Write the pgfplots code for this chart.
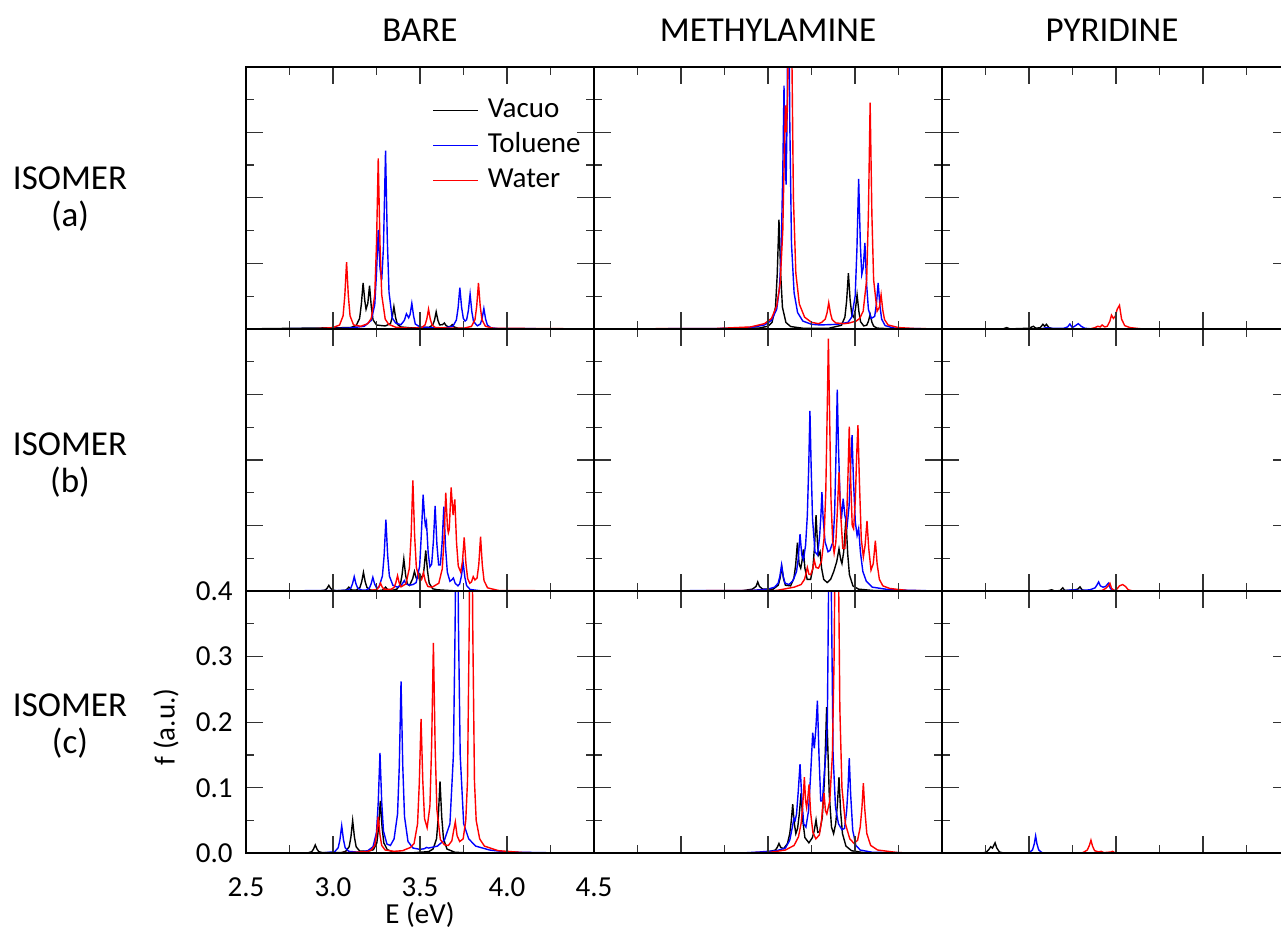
\documentclass[border=0pt]{standalone}
\usepackage{fontspec}
\setmainfont{Carlito}
\usepackage{pgfplots}
\pgfplotsset{compat=1.18}
\definecolor{cblue}{RGB}{0,0,255}
\definecolor{cred}{RGB}{255,0,0}
\pgfplotsset{
  panel/.style={
    scale only axis, width=174pt, height=131.1pt, anchor=south west,
    xmin=2.5, xmax=4.5, ymin=0, ymax=0.4,
    xtick={2.5,3,3.5,4,4.5}, minor xtick={2.75,3.25,3.75,4.25},
    ytick={0,0.1,0.2,0.3,0.4}, minor ytick={0.05,0.15,0.25,0.35},
    tick align=inside, major tick length=8.5pt, minor tick length=4pt,
    xticklabels={}, yticklabels={},
    axis line style={line width=1pt},
    every tick/.style={line width=0.6pt, black!80},
    axis on top, clip=true,
    every axis plot/.append style={line width=0.7pt, no markers},
    tick label style={font=\fontsize{14.5}{16}\selectfont},
  },
  vac/.style={black},
  tol/.style={cblue},
  wat/.style={cred},
}
\begin{document}
\begin{tikzpicture}
\path[use as bounding box] (0pt,0pt) rectangle (640.5pt,-468pt);
\tikzset{title/.style={font=\fontsize{17.5}{18.5}\selectfont, align=center}}
\node[title] at (210pt,-15pt) {BARE};
\node[title] at (384pt,-15pt) {METHYLAMINE};
\node[title] at (556pt,-15pt) {PYRIDINE};
\node[title] at (35pt,-99.75pt) {ISOMER\\(a)};
\node[title] at (35pt,-232.5pt) {ISOMER\\(b)};
\node[title] at (35pt,-363pt) {ISOMER\\(c)};
\node[font=\fontsize{14.5}{16}\selectfont, rotate=90] at (83pt,-363.5pt) {f (a.u.)};
\node[font=\fontsize{14.5}{16}\selectfont] at (210pt,-457.5pt) {E (eV)};

% ---------------- row (a) ----------------
\begin{axis}[panel, at={(123pt,-164.45pt)},
  legend style={draw=none, fill=none, at={(0.5345,0.885)}, anchor=north west,
    font=\fontsize{14.5}{16}\selectfont, row sep=4.5pt, inner sep=0pt,
    nodes={inner sep=0pt, text height=10pt, text depth=3pt},
    /tikz/every odd column/.append style={column sep=4.5pt}},
  legend cell align=left,
  legend image code/.code={\draw[#1, line width=0.7pt] (0pt,0pt) -- (22.5pt,0pt);}]
\addplot[vac] coordinates {(2.5,0) (3.10,0.002) (3.133,0.005) (3.153,0.016) (3.163,0.038) (3.173,0.070) (3.183,0.0425) (3.19,0.030) (3.20,0.039) (3.21,0.066) (3.22,0.034) (3.23,0.014) (3.25,0.006) (3.28,0.005) (3.30,0.0045) (3.33,0.008) (3.34,0.017) (3.35,0.034) (3.36,0.017) (3.37,0.007) (3.39,0.003) (3.45,0.0015) (3.553,0.0025) (3.573,0.006) (3.583,0.013) (3.593,0.026) (3.603,0.013) (3.613,0.006) (3.63,0.0066) (3.64,0.009) (3.65,0.005) (3.665,0.003) (3.675,0.004) (3.685,0.0065) (3.695,0.003) (3.72,0.001) (3.8,0.0003) (4.5,0)};
\addlegendentry{Vacuo}
\addplot[tol] coordinates {(2.5,0) (3.0,0.0006) (3.10,0.0015) (3.18,0.004) (3.22,0.013) (3.24,0.037) (3.25,0.085) (3.26,0.151) (3.27,0.093) (3.28,0.074) (3.29,0.125) (3.302,0.272) (3.312,0.137) (3.322,0.056) (3.34,0.017) (3.36,0.009) (3.39,0.0063) (3.41,0.013) (3.422,0.023) (3.435,0.017) (3.443,0.022) (3.453,0.039) (3.463,0.020) (3.473,0.0074) (3.50,0.003) (3.60,0.0012) (3.65,0.002) (3.689,0.004) (3.709,0.0135) (3.719,0.032) (3.729,0.063) (3.739,0.033) (3.749,0.016) (3.759,0.012) (3.768,0.014) (3.778,0.028) (3.788,0.053) (3.798,0.026) (3.808,0.011) (3.83,0.0047) (3.847,0.0075) (3.857,0.016) (3.867,0.031) (3.877,0.015) (3.887,0.006) (3.907,0.0018) (3.95,0.0005) (4.5,0)};
\addlegendentry{Toluene}
\addplot[wat] coordinates {(2.5,0) (2.9,0.0003) (3.0,0.002) (3.038,0.006) (3.058,0.020) (3.068,0.051) (3.078,0.102) (3.088,0.051) (3.098,0.020) (3.118,0.006) (3.16,0.004) (3.20,0.008) (3.22,0.016) (3.24,0.052) (3.25,0.13) (3.26,0.26) (3.27,0.13) (3.28,0.052) (3.30,0.015) (3.32,0.007) (3.36,0.0026) (3.45,0.001) (3.509,0.002) (3.529,0.006) (3.539,0.015) (3.549,0.030) (3.559,0.015) (3.569,0.006) (3.589,0.002) (3.70,0.001) (3.756,0.0012) (3.796,0.004) (3.816,0.014) (3.826,0.035) (3.836,0.070) (3.846,0.035) (3.856,0.014) (3.876,0.004) (3.92,0.001) (4.5,0)};
\addlegendentry{Water}
\end{axis}

\begin{axis}[panel, at={(297pt,-164.45pt)}]
\addplot[vac] coordinates {(2.5,0) (3.3,0.0002) (3.45,0.0013) (3.50,0.0041) (3.523,0.0098) (3.543,0.033) (3.553,0.083) (3.563,0.1665) (3.573,0.083) (3.583,0.033) (3.603,0.0098) (3.63,0.0036) (3.70,0.001) (3.85,0.001) (3.922,0.0055) (3.942,0.018) (3.952,0.043) (3.962,0.085) (3.972,0.044) (3.982,0.021) (3.992,0.018) (4.002,0.029) (4.012,0.052) (4.022,0.027) (4.032,0.011) (4.05,0.0045) (4.067,0.0056) (4.077,0.0115) (4.087,0.022) (4.097,0.0105) (4.107,0.0042) (4.127,0.0012) (4.2,0.0002) (4.5,0)};
\addplot[tol] coordinates {(2.5,0) (3.2,0.0005) (3.40,0.002) (3.48,0.006) (3.52,0.013) (3.55,0.030) (3.565,0.060) (3.575,0.11) (3.585,0.24) (3.592,0.371) (3.598,0.26) (3.604,0.22) (3.610,0.33) (3.617,0.60) (3.625,0.32) (3.635,0.13) (3.65,0.055) (3.67,0.025) (3.70,0.012) (3.75,0.007) (3.80,0.006) (3.90,0.007) (3.96,0.010) (3.981,0.018) (4.001,0.050) (4.011,0.121) (4.021,0.229) (4.031,0.127) (4.039,0.083) (4.047,0.093) (4.057,0.131) (4.067,0.067) (4.077,0.030) (4.093,0.016) (4.113,0.019) (4.123,0.038) (4.133,0.070) (4.143,0.036) (4.153,0.015) (4.173,0.005) (4.22,0.0015) (4.3,0.0005) (4.5,0)};
\addplot[wat] coordinates {(2.5,0) (3.2,0.0006) (3.40,0.003) (3.48,0.008) (3.52,0.016) (3.55,0.035) (3.57,0.07) (3.585,0.15) (3.594,0.27) (3.600,0.341) (3.606,0.30) (3.613,0.36) (3.620,0.55) (3.628,0.70) (3.636,0.45) (3.646,0.20) (3.66,0.085) (3.68,0.038) (3.71,0.018) (3.75,0.010) (3.79,0.008) (3.809,0.010) (3.829,0.015) (3.839,0.024) (3.849,0.040) (3.859,0.024) (3.869,0.014) (3.89,0.009) (3.94,0.008) (3.967,0.009) (4.007,0.012) (4.027,0.016) (4.047,0.027) (4.067,0.075) (4.077,0.175) (4.087,0.345) (4.097,0.175) (4.107,0.075) (4.127,0.027) (4.14,0.033) (4.15,0.052) (4.16,0.028) (4.17,0.014) (4.19,0.006) (4.25,0.002) (4.35,0.0005) (4.5,0)};
\end{axis}

\begin{axis}[panel, at={(471pt,-164.45pt)}]
\addplot[vac] coordinates {(2.5,0) (2.85,0) (2.872,0.002) (2.89,0) (3.00,0.001) (3.025,0.004) (3.04,0.001) (3.065,0.002) (3.080,0.007) (3.090,0.004) (3.100,0.007) (3.115,0.002) (3.14,0) (4.5,0)};
\addplot[tol] coordinates {(2.5,0) (3.07,0) (3.10,0.002) (3.12,0.001) (3.20,0.001) (3.222,0.003) (3.235,0.0075) (3.248,0.002) (3.262,0.004) (3.283,0.008) (3.30,0.004) (3.32,0.001) (3.36,0) (4.5,0)};
\addplot[wat] coordinates {(2.5,0) (3.35,0) (3.38,0.002) (3.395,0.004) (3.41,0.003) (3.42,0.006) (3.435,0.003) (3.45,0.004) (3.465,0.012) (3.474,0.021) (3.485,0.016) (3.495,0.019) (3.507,0.030) (3.52,0.036) (3.532,0.015) (3.55,0.005) (3.58,0.002) (3.65,0) (4.5,0)};
\end{axis}

% ---------------- row (b) ----------------
\begin{axis}[panel, at={(123pt,-295.55pt)}]
\addplot[vac] coordinates {(2.5,0) (2.93,0.0005) (2.956,0.0017) (2.966,0.0043) (2.976,0.0087) (2.986,0.0043) (2.996,0.0017) (3.02,0.0005) (3.071,0.0012) (3.081,0.003) (3.091,0.006) (3.101,0.003) (3.111,0.0015) (3.135,0.0017) (3.155,0.0057) (3.165,0.0143) (3.175,0.0285) (3.185,0.0143) (3.195,0.0057) (3.215,0.0017) (3.25,0.0006) (3.282,0.0012) (3.292,0.003) (3.302,0.006) (3.312,0.003) (3.322,0.0015) (3.345,0.0015) (3.367,0.003) (3.387,0.010) (3.397,0.025) (3.407,0.049) (3.417,0.025) (3.427,0.011) (3.44,0.0086) (3.458,0.019) (3.468,0.030) (3.478,0.020) (3.489,0.020) (3.499,0.026) (3.509,0.020) (3.518,0.024) (3.523,0.0335) (3.533,0.062) (3.543,0.031) (3.553,0.012) (3.573,0.0035) (3.60,0.002) (3.70,0.0004) (4.5,0)};
\addplot[tol] coordinates {(2.5,0) (3.05,0.001) (3.082,0.0015) (3.102,0.0045) (3.112,0.011) (3.122,0.022) (3.132,0.011) (3.142,0.0045) (3.165,0.0015) (3.19,0.0015) (3.209,0.0045) (3.219,0.011) (3.229,0.021) (3.239,0.011) (3.249,0.0055) (3.264,0.006) (3.284,0.023) (3.294,0.055) (3.304,0.109) (3.314,0.055) (3.324,0.023) (3.344,0.009) (3.37,0.006) (3.39,0.008) (3.40,0.012) (3.41,0.016) (3.42,0.011) (3.44,0.009) (3.46,0.010) (3.478,0.013) (3.498,0.038) (3.508,0.088) (3.518,0.147) (3.527,0.110) (3.531,0.100) (3.537,0.106) (3.547,0.058) (3.557,0.037) (3.567,0.041) (3.577,0.076) (3.587,0.130) (3.597,0.072) (3.607,0.040) (3.617,0.040) (3.627,0.073) (3.637,0.129) (3.647,0.066) (3.657,0.029) (3.672,0.015) (3.682,0.017) (3.692,0.020) (3.702,0.012) (3.718,0.008) (3.728,0.011) (3.738,0.023) (3.748,0.043) (3.758,0.021) (3.768,0.0084) (3.788,0.0025) (3.85,0.0004) (4.5,0)};
\addplot[wat] coordinates {(2.5,0) (3.20,0.0005) (3.253,0.0025) (3.263,0.006) (3.273,0.012) (3.283,0.006) (3.293,0.003) (3.331,0.0025) (3.351,0.0055) (3.361,0.0125) (3.371,0.0235) (3.381,0.012) (3.391,0.0065) (3.419,0.011) (3.439,0.035) (3.449,0.085) (3.459,0.169) (3.469,0.085) (3.479,0.036) (3.499,0.015) (3.51,0.018) (3.52,0.028) (3.53,0.016) (3.545,0.007) (3.57,0.006) (3.608,0.012) (3.628,0.034) (3.638,0.078) (3.648,0.150) (3.658,0.097) (3.663,0.089) (3.668,0.094) (3.679,0.158) (3.69,0.116) (3.70,0.140) (3.71,0.074) (3.72,0.038) (3.734,0.029) (3.744,0.045) (3.754,0.082) (3.764,0.042) (3.774,0.019) (3.786,0.012) (3.796,0.014) (3.806,0.022) (3.816,0.017) (3.828,0.020) (3.838,0.041) (3.848,0.083) (3.858,0.040) (3.868,0.016) (3.888,0.005) (3.95,0.001) (4.5,0)};
\end{axis}

\begin{axis}[panel, at={(297pt,-295.55pt)}]
\addplot[vac] coordinates {(2.5,0) (3.35,0.0005) (3.41,0.003) (3.431,0.007) (3.441,0.014) (3.451,0.007) (3.47,0.003) (3.53,0.003) (3.559,0.009) (3.569,0.019) (3.579,0.037) (3.589,0.019) (3.60,0.009) (3.63,0.008) (3.649,0.020) (3.659,0.040) (3.669,0.074) (3.679,0.041) (3.688,0.035) (3.695,0.045) (3.703,0.0635) (3.712,0.035) (3.725,0.018) (3.745,0.018) (3.758,0.035) (3.768,0.070) (3.776,0.116) (3.784,0.075) (3.79,0.055) (3.799,0.060) (3.808,0.035) (3.82,0.018) (3.84,0.013) (3.86,0.018) (3.878,0.030) (3.895,0.045) (3.908,0.0645) (3.918,0.048) (3.925,0.042) (3.935,0.060) (3.948,0.111) (3.958,0.057) (3.968,0.025) (3.988,0.008) (4.02,0.003) (4.1,0.001) (4.5,0)};
\addplot[tol] coordinates {(2.5,0) (3.40,0.001) (3.50,0.003) (3.538,0.006) (3.558,0.012) (3.568,0.022) (3.578,0.040) (3.588,0.022) (3.598,0.012) (3.62,0.010) (3.644,0.016) (3.664,0.030) (3.674,0.050) (3.684,0.087) (3.694,0.055) (3.704,0.048) (3.716,0.070) (3.726,0.115) (3.734,0.190) (3.741,0.275) (3.748,0.19) (3.756,0.11) (3.77,0.06) (3.785,0.055) (3.797,0.085) (3.804,0.115) (3.810,0.151) (3.817,0.11) (3.828,0.075) (3.845,0.060) (3.856,0.062) (3.866,0.070) (3.874,0.075) (3.883,0.12) (3.891,0.21) (3.898,0.3075) (3.905,0.22) (3.914,0.14) (3.922,0.11) (3.932,0.141) (3.942,0.115) (3.955,0.10) (3.966,0.13) (3.975,0.19) (3.983,0.238) (3.991,0.17) (4.002,0.105) (4.012,0.085) (4.021,0.0955) (4.031,0.060) (4.045,0.030) (4.065,0.015) (4.10,0.006) (4.2,0.002) (4.5,0)};
\addplot[wat] coordinates {(2.5,0) (3.55,0.001) (3.65,0.006) (3.69,0.010) (3.71,0.018) (3.718,0.026) (3.726,0.036) (3.735,0.026) (3.745,0.025) (3.756,0.033) (3.766,0.047) (3.776,0.036) (3.79,0.035) (3.807,0.045) (3.822,0.080) (3.832,0.150) (3.840,0.270) (3.847,0.385) (3.854,0.27) (3.862,0.14) (3.872,0.075) (3.880,0.058) (3.890,0.075) (3.899,0.125) (3.908,0.182) (3.917,0.120) (3.930,0.065) (3.942,0.065) (3.952,0.110) (3.960,0.180) (3.967,0.251) (3.975,0.17) (3.984,0.100) (3.992,0.095) (4.002,0.140) (4.010,0.210) (4.017,0.253) (4.025,0.17) (4.036,0.080) (4.048,0.052) (4.058,0.070) (4.069,0.107) (4.079,0.065) (4.092,0.032) (4.105,0.042) (4.117,0.077) (4.127,0.042) (4.14,0.018) (4.16,0.008) (4.2,0.004) (4.3,0.001) (4.5,0)};
\end{axis}

\begin{axis}[panel, at={(471pt,-295.55pt)}]
\addplot[vac] coordinates {(2.5,0) (3.10,0) (3.13,0.002) (3.15,0) (3.18,0.001) (3.194,0.005) (3.205,0.001) (3.25,0.001) (3.28,0.003) (3.293,0.0065) (3.305,0.002) (3.33,0) (4.5,0)};
\addplot[tol] coordinates {(2.5,0) (3.15,0) (3.22,0.001) (3.25,0.002) (3.30,0.001) (3.35,0.002) (3.38,0.005) (3.392,0.010) (3.40,0.014) (3.41,0.008) (3.425,0.006) (3.44,0.007) (3.456,0.012) (3.468,0.004) (3.48,0.001) (3.52,0) (4.5,0)};
\addplot[wat] coordinates {(2.5,0) (3.38,0) (3.42,0.001) (3.44,0.004) (3.455,0.008) (3.465,0.012) (3.475,0.004) (3.49,0.001) (3.505,0.003) (3.52,0.008) (3.538,0.010) (3.555,0.007) (3.57,0.002) (3.60,0) (4.5,0)};
\end{axis}

% ---------------- row (c) ----------------
\begin{axis}[panel, at={(123pt,-426.65pt)},
  xticklabels={2.5,3.0,3.5,4.0,4.5}, yticklabels={0.0,0.1,0.2,0.3,0.4},
  xticklabel style={anchor=north, inner sep=0pt, yshift=-12pt},
  yticklabel style={anchor=east, inner sep=0pt, xshift=-6.5pt}]
\addplot[vac] coordinates {(2.5,0) (2.80,0.0005) (2.858,0.0008) (2.878,0.0025) (2.888,0.0064) (2.898,0.0127) (2.908,0.0064) (2.918,0.0025) (2.94,0.001) (3.05,0.0013) (3.073,0.0030) (3.093,0.010) (3.103,0.025) (3.113,0.050) (3.123,0.025) (3.133,0.010) (3.153,0.0035) (3.20,0.003) (3.232,0.0055) (3.252,0.016) (3.262,0.040) (3.272,0.080) (3.282,0.040) (3.292,0.016) (3.312,0.0055) (3.35,0.0017) (3.45,0.0006) (3.55,0.0026) (3.575,0.0065) (3.595,0.022) (3.605,0.055) (3.615,0.1096) (3.625,0.055) (3.635,0.022) (3.655,0.0065) (3.70,0.0016) (3.80,0.0003) (4.5,0)};
\addplot[tol] coordinates {(2.5,0) (2.95,0.0008) (3.010,0.0025) (3.030,0.0085) (3.040,0.021) (3.050,0.042) (3.060,0.021) (3.070,0.0085) (3.090,0.003) (3.15,0.0016) (3.20,0.004) (3.230,0.010) (3.250,0.032) (3.260,0.078) (3.270,0.153) (3.280,0.078) (3.290,0.034) (3.310,0.014) (3.33,0.012) (3.351,0.022) (3.371,0.060) (3.381,0.133) (3.391,0.2624) (3.401,0.133) (3.411,0.056) (3.431,0.018) (3.46,0.008) (3.50,0.006) (3.525,0.007) (3.538,0.009) (3.55,0.008) (3.60,0.011) (3.64,0.020) (3.672,0.045) (3.692,0.15) (3.702,0.35) (3.711,0.70) (3.721,0.35) (3.731,0.15) (3.751,0.045) (3.78,0.022) (3.82,0.011) (3.90,0.005) (4.0,0.002) (4.2,0.001) (4.5,0)};
\addplot[wat] coordinates {(2.5,0) (3.10,0.001) (3.20,0.003) (3.220,0.005) (3.240,0.012) (3.250,0.028) (3.260,0.056) (3.270,0.028) (3.280,0.012) (3.30,0.005) (3.35,0.003) (3.40,0.004) (3.446,0.009) (3.466,0.015) (3.486,0.045) (3.496,0.107) (3.506,0.205) (3.516,0.111) (3.526,0.053) (3.541,0.039) (3.557,0.072) (3.567,0.166) (3.577,0.321) (3.587,0.163) (3.597,0.067) (3.617,0.021) (3.64,0.013) (3.663,0.012) (3.683,0.019) (3.693,0.034) (3.703,0.048) (3.713,0.027) (3.728,0.018) (3.748,0.022) (3.763,0.050) (3.773,0.11) (3.783,0.35) (3.793,0.80) (3.803,0.35) (3.813,0.11) (3.823,0.05) (3.843,0.022) (3.87,0.011) (3.95,0.004) (4.1,0.001) (4.5,0)};
\end{axis}

\begin{axis}[panel, at={(297pt,-426.65pt)}]
\addplot[vac] coordinates {(2.5,0) (3.40,0.0005) (3.50,0.002) (3.543,0.005) (3.553,0.009) (3.563,0.015) (3.573,0.009) (3.59,0.007) (3.612,0.015) (3.625,0.030) (3.634,0.050) (3.642,0.075) (3.650,0.048) (3.660,0.030) (3.670,0.038) (3.680,0.060) (3.690,0.092) (3.700,0.050) (3.712,0.024) (3.735,0.016) (3.755,0.024) (3.766,0.035) (3.776,0.051) (3.786,0.032) (3.797,0.033) (3.812,0.055) (3.824,0.11) (3.831,0.17) (3.837,0.223) (3.844,0.16) (3.852,0.09) (3.865,0.040) (3.877,0.030) (3.889,0.045) (3.899,0.075) (3.908,0.116) (3.917,0.065) (3.928,0.030) (3.948,0.011) (3.98,0.004) (4.05,0.001) (4.5,0)};
\addplot[tol] coordinates {(2.5,0) (3.35,0.0005) (3.45,0.002) (3.55,0.004) (3.60,0.008) (3.625,0.020) (3.640,0.040) (3.649,0.0535) (3.656,0.050) (3.664,0.060) (3.674,0.095) (3.684,0.136) (3.694,0.085) (3.705,0.045) (3.718,0.040) (3.733,0.065) (3.745,0.120) (3.757,0.184) (3.766,0.160) (3.775,0.190) (3.784,0.233) (3.793,0.15) (3.803,0.080) (3.813,0.080) (3.823,0.120) (3.833,0.153) (3.841,0.20) (3.848,0.40) (3.856,0.80) (3.864,0.40) (3.874,0.15) (3.888,0.070) (3.905,0.045) (3.925,0.036) (3.940,0.038) (3.952,0.065) (3.960,0.100) (3.967,0.145) (3.975,0.090) (3.987,0.035) (4.005,0.012) (4.03,0.005) (4.1,0.0015) (4.5,0)};
\addplot[wat] coordinates {(2.5,0) (3.50,0.001) (3.60,0.005) (3.65,0.012) (3.675,0.025) (3.690,0.045) (3.700,0.075) (3.709,0.116) (3.716,0.080) (3.722,0.070) (3.729,0.085) (3.736,0.105) (3.745,0.062) (3.758,0.032) (3.775,0.022) (3.795,0.028) (3.808,0.050) (3.815,0.075) (3.822,0.092) (3.830,0.065) (3.838,0.060) (3.855,0.080) (3.870,0.15) (3.880,0.30) (3.888,0.55) (3.895,0.90) (3.903,0.50) (3.913,0.22) (3.925,0.10) (3.945,0.045) (3.970,0.022) (3.995,0.015) (4.015,0.020) (4.030,0.040) (4.040,0.070) (4.048,0.107) (4.056,0.068) (4.068,0.030) (4.09,0.012) (4.13,0.005) (4.25,0.001) (4.5,0)};
\end{axis}

\begin{axis}[panel, at={(471pt,-426.65pt)}]
\addplot[vac] coordinates {(2.5,0) (2.73,0) (2.755,0.002) (2.770,0.006) (2.780,0.010) (2.790,0.008) (2.805,0.016) (2.815,0.008) (2.83,0.002) (2.86,0) (4.5,0)};
\addplot[tol] coordinates {(2.5,0) (2.95,0) (3.00,0.001) (3.020,0.005) (3.030,0.014) (3.038,0.0265) (3.046,0.014) (3.056,0.005) (3.075,0.001) (3.10,0) (4.5,0)};
\addplot[wat] coordinates {(2.5,0) (3.25,0) (3.31,0.001) (3.335,0.005) (3.347,0.012) (3.356,0.020) (3.365,0.011) (3.377,0.004) (3.40,0.002) (3.415,0.003) (3.43,0.001) (3.47,0.002) (3.48,0.003) (3.50,0) (4.5,0)};
\end{axis}
\end{tikzpicture}
\end{document}
